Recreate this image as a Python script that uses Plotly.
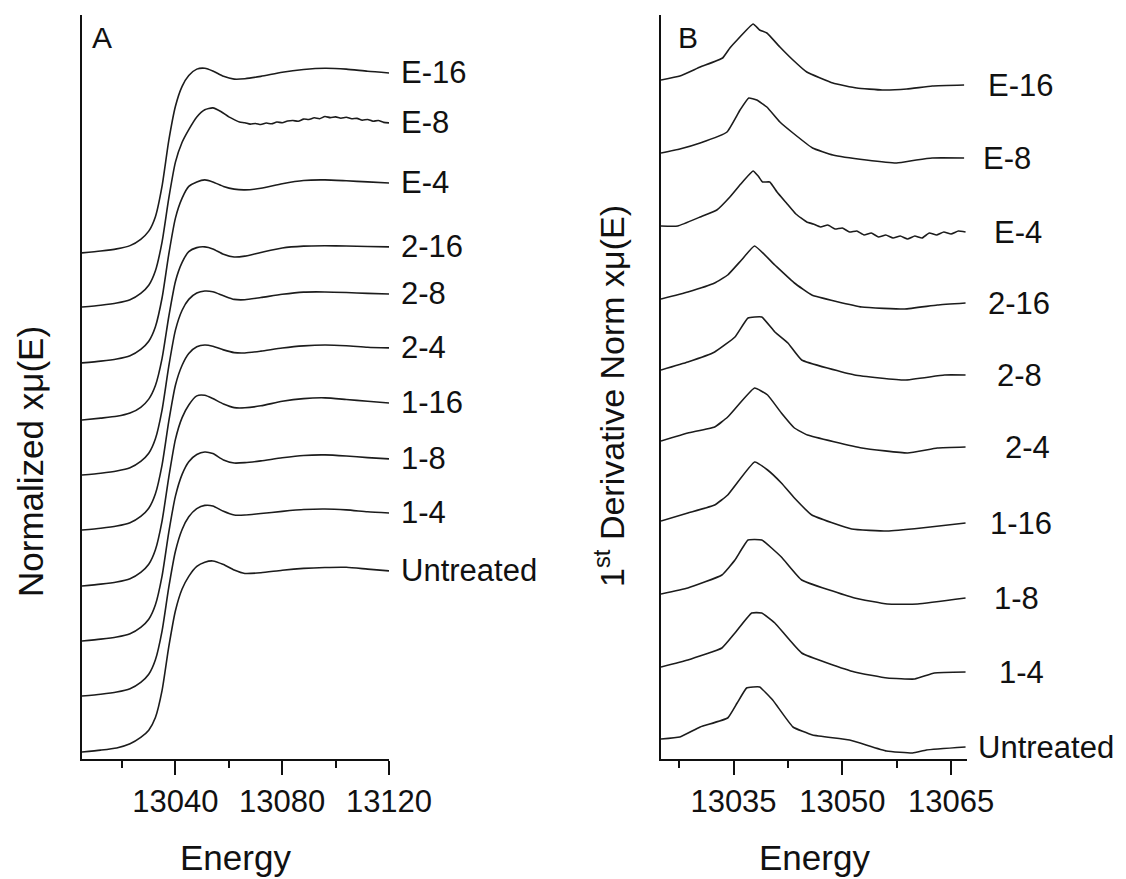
import numpy as np
import plotly.graph_objects as go

FONT = "Liberation Sans, Arial, sans-serif"
INK = "#1c1c1c"

# ---------------- Panel A: normalized XANES ----------------
labels = ["E-16", "E-8", "E-4", "2-16", "2-8", "2-4", "1-16", "1-8", "1-4", "Untreated"]

energy_a = [13005, 13012, 13018, 13023, 13027, 13030, 13032.5, 13035, 13037.5, 13040,
            13042.5, 13045, 13048, 13051, 13054, 13058, 13062, 13066, 13072, 13080,
            13088, 13096, 13104, 13112, 13120]
energy_a_e8 = [13005, 13012, 13018, 13023, 13027, 13030, 13032.5, 13035, 13037.5, 13040,
               13042.5, 13045, 13048, 13051, 13054, 13057, 13060, 13062, 13064, 13066,
               13068, 13070, 13072, 13074, 13076, 13078, 13080, 13082, 13084, 13086,
               13088, 13090, 13092, 13094, 13096, 13098, 13100, 13102, 13104, 13106,
               13108, 13110, 13112, 13114, 13116, 13118, 13120]

a_e16 = [0.0, 0.01, 0.022, 0.04, 0.075, 0.12, 0.2, 0.37, 0.62, 0.81, 0.92, 0.98, 1.015, 1.02,
         1.005, 0.975, 0.96, 0.962, 0.975, 0.998, 1.013, 1.02, 1.015, 1.003, 0.994]
a_e8 = [0.0, 0.01, 0.022, 0.04, 0.075, 0.12, 0.2, 0.36, 0.6, 0.8, 0.91, 0.98,
        1.05, 1.09, 1.10, 1.08, 1.05,
        1.035, 1.022, 1.018, 1.01, 1.014, 1.008, 1.016, 1.012, 1.022, 1.018, 1.027, 1.03,
        1.026, 1.038, 1.036, 1.045, 1.04, 1.052, 1.046, 1.05, 1.043, 1.048, 1.04, 1.042,
        1.032, 1.036, 1.026, 1.03, 1.02, 1.017]
a_e4 = [0.0, 0.01, 0.022, 0.04, 0.075, 0.12, 0.2, 0.36, 0.6, 0.8, 0.91, 0.975, 1.0, 1.011,
        1.0, 0.975, 0.96, 0.956, 0.965, 0.99, 1.008, 1.011, 1.006, 1.0, 0.994]
a_2_16 = [0.0, 0.01, 0.02, 0.038, 0.07, 0.115, 0.19, 0.34, 0.57, 0.765, 0.87, 0.93, 0.952,
          0.956, 0.945, 0.915, 0.90, 0.905, 0.925, 0.95, 0.96, 0.962, 0.961, 0.958, 0.956]
a_2_8 = [0.0, 0.01, 0.022, 0.04, 0.075, 0.12, 0.2, 0.36, 0.6, 0.8, 0.91, 0.97, 1.005, 1.016,
         1.012, 0.99, 0.97, 0.968, 0.98, 0.998, 1.01, 1.011, 1.008, 1.003, 1.0]
a_2_4 = [0.0, 0.01, 0.022, 0.04, 0.075, 0.12, 0.2, 0.36, 0.6, 0.8, 0.91, 0.975, 1.012, 1.022,
         1.015, 0.995, 0.98, 0.978, 0.988, 1.005, 1.017, 1.022, 1.018, 1.01, 1.006]
a_1_16 = [0.0, 0.01, 0.022, 0.04, 0.075, 0.12, 0.2, 0.36, 0.6, 0.81, 0.93, 1.0, 1.05, 1.053,
          1.035, 1.005, 0.985, 0.984, 0.995, 1.02, 1.035, 1.039, 1.03, 1.02, 1.011]
a_1_8 = [0.0, 0.01, 0.022, 0.04, 0.075, 0.12, 0.2, 0.36, 0.6, 0.8, 0.92, 0.99, 1.03, 1.044,
         1.035, 1.0, 0.983, 0.985, 0.995, 1.012, 1.025, 1.028, 1.022, 1.013, 1.006]
a_1_4 = [0.0, 0.01, 0.022, 0.04, 0.075, 0.12, 0.2, 0.36, 0.6, 0.8, 0.92, 0.99, 1.035, 1.053,
         1.05, 1.02, 1.0, 1.0, 1.008, 1.02, 1.03, 1.033, 1.028, 1.018, 1.011]
a_untreated = [0.0, 0.01, 0.022, 0.045, 0.08, 0.12, 0.19, 0.34, 0.58, 0.78, 0.9, 0.97, 1.025,
               1.048, 1.055, 1.035, 1.005, 0.986, 0.99, 1.004, 1.014, 1.019, 1.02, 1.01, 1.0]

offsets_a = [2.796, 2.497, 2.188, 1.873, 1.569, 1.265, 0.956, 0.652, 0.348, 0.039]

# ---------------- Panel B: first derivative ----------------
b_e16_x = [13025.0, 13027.6, 13030.4, 13033.5, 13034.5, 13035.5, 13037.7, 13038.6, 13039.6,
           13041.4, 13043.2, 13045.1, 13048.7, 13052.0, 13055.5, 13058.9, 13062.4, 13066.8]
b_e16_y = [0.0, 0.01, 0.0325, 0.055, 0.08, 0.1, 0.14, 0.125, 0.1175, 0.0825, 0.05, 0.02,
           -0.0075, -0.02, -0.025, -0.0225, -0.015, -0.0125]

b_e8_x = [13025.0, 13027.6, 13030.4, 13034.1, 13035.9, 13037.1, 13038.2, 13039.6, 13041.4,
          13043.2, 13045.9, 13048.7, 13053.3, 13057.5, 13060.2, 13062.4, 13066.8]
b_e8_y = [0.0, 0.01, 0.025, 0.0525, 0.1075, 0.1375, 0.1325, 0.115, 0.0775, 0.05, 0.0125,
          -0.005, -0.0175, -0.025, -0.0175, -0.0125, -0.0125]

b_e4_x = [13025.0, 13027.3, 13030.4, 13032.7, 13034.5, 13036.0, 13037.7, 13038.4, 13039.0,
          13040.0, 13041.0, 13042.3, 13043.6, 13045.1, 13046, 13047, 13048, 13049, 13050,
          13051, 13052, 13053, 13054, 13055, 13056, 13057, 13058, 13059, 13060, 13061,
          13062, 13063, 13064, 13065, 13066, 13067]
b_e4_y = [0.0, 0.0, 0.0225, 0.04, 0.0725, 0.105, 0.1375, 0.125, 0.11, 0.11, 0.085, 0.0575,
          0.03, 0.01, 0.005, -0.0025, 0.0025, -0.0075, -0.005, -0.015, -0.0125, -0.0225,
          -0.0175, -0.0275, -0.0225, -0.03, -0.025, -0.0325, -0.025, -0.03, -0.0175, -0.0225,
          -0.015, -0.02, -0.0125, -0.015]

b_2_16_x = [13025.0, 13028.7, 13032.4, 13034.2, 13036.1, 13037.9, 13040.7, 13043.4, 13045.8,
            13052.7, 13058.6, 13063.1, 13067.0]
b_2_16_y = [0.0, 0.0175, 0.04, 0.06, 0.0975, 0.1325, 0.085, 0.04, 0.01, -0.02, -0.025,
            -0.015, -0.01]

b_2_8_x = [13025.0, 13028.7, 13032.4, 13035.2, 13037.0, 13038.9, 13040.7, 13042.5, 13044.4,
           13051.7, 13058.6, 13064.1, 13067.0]
b_2_8_y = [0.0, 0.02, 0.045, 0.0825, 0.13, 0.1325, 0.095, 0.0675, 0.025, -0.0125, -0.025,
           -0.0125, -0.0125]

b_2_4_x = [13025.0, 13028.7, 13032.4, 13034.2, 13037.9, 13039.7, 13041.6, 13043.4, 13045.2,
           13052.7, 13059.0, 13063.1, 13067.0]
b_2_4_y = [0.0, 0.02, 0.035, 0.06, 0.1325, 0.115, 0.07, 0.0325, 0.015, -0.0175, -0.03,
           -0.0175, -0.015]

b_1_16_x = [13025.0, 13028.7, 13032.4, 13034.2, 13037.9, 13039.7, 13041.6, 13043.4, 13045.8,
            13051.3, 13056.2, 13060.9, 13067.0]
b_1_16_y = [0.0, 0.02, 0.04, 0.065, 0.1475, 0.1275, 0.095, 0.0575, 0.015, -0.02, -0.025,
            -0.0175, -0.005]

b_1_8_x = [13025.0, 13028.7, 13033.4, 13035.2, 13037.0, 13038.9, 13041.6, 13044.4, 13051.7,
           13056.2, 13060.4, 13067.0]
b_1_8_y = [0.0, 0.015, 0.0475, 0.085, 0.135, 0.135, 0.0925, 0.035, -0.01, -0.025, -0.025,
           -0.01]

b_1_4_x = [13025.0, 13028.7, 13033.4, 13035.2, 13037.5, 13038.9, 13040.7, 13044.4, 13051.7,
           13056.2, 13060.0, 13062.7, 13067.0]
b_1_4_y = [0.0, 0.0175, 0.0475, 0.085, 0.135, 0.135, 0.11, 0.035, -0.0125, -0.0275, -0.03,
           -0.015, -0.0125]

b_unt_x = [13025.0, 13027.6, 13030.4, 13034.2, 13035.5, 13036.8, 13037.7, 13038.6, 13040.4,
           13043.2, 13045.9, 13051.0, 13056.1, 13059.7, 13061.6, 13067.0]
b_unt_y = [0.0, 0.005, 0.03, 0.0525, 0.09, 0.1275, 0.13, 0.13, 0.0975, 0.03, 0.01, -0.0025,
           -0.03, -0.035, -0.0275, -0.02]

offsets_b = [1.6975, 1.515, 1.3325, 1.15, 0.9725, 0.795, 0.595, 0.4125, 0.23, 0.05]

xticks_a = [13040, 13080, 13120]
xticks_b = [13035, 13050, 13065]

# ---------------- build ----------------
series_a = [(energy_a, a_e16), (energy_a_e8, a_e8), (energy_a, a_e4), (energy_a, a_2_16),
            (energy_a, a_2_8), (energy_a, a_2_4), (energy_a, a_1_16), (energy_a, a_1_8),
            (energy_a, a_1_4), (energy_a, a_untreated)]
series_b = [(b_e16_x, b_e16_y), (b_e8_x, b_e8_y), (b_e4_x, b_e4_y), (b_2_16_x, b_2_16_y),
            (b_2_8_x, b_2_8_y), (b_2_4_x, b_2_4_y), (b_1_16_x, b_1_16_y), (b_1_8_x, b_1_8_y),
            (b_1_4_x, b_1_4_y), (b_unt_x, b_unt_y)]

label_shift_b = [22, 17, 26, 20, 29, 37, 22, 26, 31, 10]

W, H = 1126, 879
PAGE_PAD = 8  # default body margin of the html page


def px(x):
    return (x - PAGE_PAD) / W


def py(y):
    return 1 - (y - PAGE_PAD) / H


fig = go.Figure()
annotations = []
for name, (ex, vals), off in zip(labels, series_a, offsets_a):
    yv = np.array(vals) + off
    fig.add_trace(go.Scatter(x=ex, y=yv, mode="lines", name=name, xaxis="x", yaxis="y",
                             line=dict(color=INK, width=1.6, shape="spline", smoothing=0.6),
                             showlegend=False))
    annotations.append(dict(x=ex[-1], y=yv[-1], xref="x", yref="y", text=name,
                            showarrow=False, xanchor="left", yanchor="middle", xshift=10,
                            font=dict(family=FONT, size=31, color="#111")))

for name, (ex, vals), off, sh in zip(labels, series_b, offsets_b, label_shift_b):
    yv = np.array(vals) + off
    fig.add_trace(go.Scatter(x=ex, y=yv, mode="lines", name=name, xaxis="x2", yaxis="y2",
                             line=dict(color=INK, width=1.6, shape="spline", smoothing=0.35),
                             showlegend=False))
    annotations.append(dict(x=ex[-1], y=yv[-1], xref="x2", yref="y2", text=name,
                            showarrow=False, xanchor="left", yanchor="middle", xshift=sh,
                            font=dict(family=FONT, size=31, color="#111")))


def note(x, y, text, size, angle=0, pad=1):
    return dict(x=px(x), y=py(y), xref="paper", yref="paper", text=text, showarrow=False,
                xanchor="center", yanchor="middle", textangle=angle, borderpad=pad,
                font=dict(family=FONT, size=size, color="#111"))


annotations += [
    note(102, 38, "A", 30),
    note(688, 38, "B", 30),
    note(235, 857, "Energy", 35),
    note(814, 857, "Energy", 35),
    note(31, 462, "Normalized xμ(E)", 35, -90, 0),
    note(609, 396, "1<sup>st</sup> Derivative Norm xμ(E)", 34, -90),
]

ydom = [py(759), py(15)]
xaxis_common = dict(showline=True, linecolor="#111", linewidth=2, ticks="outside",
                    ticklen=14, tickwidth=2, tickcolor="#111", showgrid=False, zeroline=False,
                    automargin=False,
                    tickfont=dict(family=FONT, size=31, color="#111"), ticklabelstandoff=0)
yaxis_common = dict(showline=True, linecolor="#111", linewidth=2, ticks="",
                    showticklabels=False, showgrid=False, zeroline=False, domain=ydom,
                    automargin=False)

fig.update_layout(
    width=W, height=H, autosize=False,
    margin=dict(l=0, r=0, t=0, b=0, pad=0),
    paper_bgcolor="white", plot_bgcolor="white",
    showlegend=False,
    xaxis=dict(**xaxis_common, domain=[px(82), px(389)], range=[13005, 13120],
               tickvals=xticks_a, ticktext=[str(v) for v in xticks_a], anchor="y",
               minor=dict(tickvals=[13020, 13060, 13100], ticklen=7, tickwidth=2,
                          tickcolor="#111", ticks="outside", showgrid=False)),
    yaxis=dict(**yaxis_common, range=[0, 4.11], anchor="x"),
    xaxis2=dict(**xaxis_common, domain=[px(661), px(967)], range=[13025, 13067.2],
                tickvals=xticks_b, ticktext=[str(v) for v in xticks_b], anchor="y2",
                minor=dict(tickvals=[13027.5, 13042.5, 13057.5], ticklen=7, tickwidth=2,
                           tickcolor="#111", ticks="outside", showgrid=False)),
    yaxis2=dict(**yaxis_common, range=[0, 1.86], anchor="x2"),
    annotations=annotations,
)

fig.write_html("out.html", config={"responsive": False})
